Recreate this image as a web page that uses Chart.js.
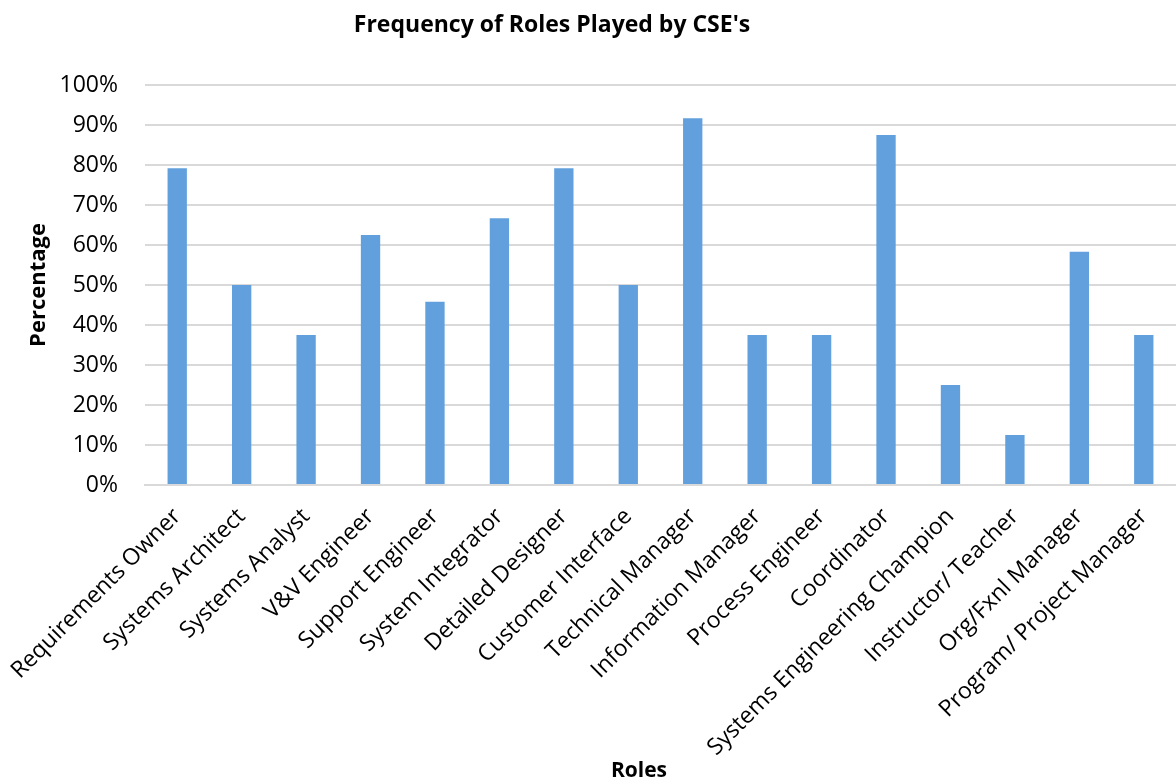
<!DOCTYPE html>
<html>
<head>
<meta charset="utf-8">
<script src="https://cdn.jsdelivr.net/npm/chart.js@4/dist/chart.umd.min.js"></script>
<style>
  html, body { margin: 0; padding: 0; background: #fff; }
  #wrap { position: relative; width: 1176px; height: 784px; }
</style>
</head>
<body>
<div id="wrap"><canvas id="rolesChart"></canvas></div>
<script>
const roles = [
    'Requirements Owner',
    'Systems Architect',
    'Systems Analyst',
    'V&V Engineer',
    'Support Engineer',
    'System Integrator',
    'Detailed Designer',
    'Customer Interface',
    'Technical Manager',
    'Information Manager',
    'Process Engineer',
    'Coordinator',
    'Systems Engineering Champion',
    'Instructor/ Teacher',
    'Org/Fxnl Manager',
    'Program/ Project Manager'
];

const percentages = [79.2, 50, 37.5, 62.5, 45.8, 66.7, 79.2, 50, 91.7, 37.5, 37.5, 87.5, 25, 12.5, 58.3, 37.5];

const yTicks = [0, 10, 20, 30, 40, 50, 60, 70, 80, 90, 100];

const chartTitle = "Frequency of Roles Played by CSE's";
const xTitle = 'Roles';

const font = "'Open Sans', 'Noto Sans', sans-serif";

// main title and x title sit a bit left of centre in the original, so draw them by hand
const titlePlugin = {
    id: 'offsetTitles',
    afterDraw(chart) {
        const ctx = chart.ctx;
        ctx.save();
        ctx.fillStyle = '#000';
        ctx.textAlign = 'center';
        ctx.textBaseline = 'alphabetic';
        ctx.font = 'bold 23px ' + font;
        ctx.fillText(chartTitle, 552, 32);
        ctx.font = 'bold 21px ' + font;
        ctx.fillText(xTitle, 639, 777);
        ctx.restore();
    }
};

const data = {
    labels: roles,
    datasets: [{
        label: 'Percentage',
        backgroundColor: 'rgb(98, 160, 221)',
        borderWidth: 0,
        barPercentage: 0.30,
        categoryPercentage: 1.0,
        data: percentages,
    }]
};

const config = {
    type: 'bar',
    data: data,
    plugins: [titlePlugin],
    options: {
        responsive: false,
        animation: false,
        layout: { padding: { left: 0, right: 0, top: 85, bottom: 0 } },
        plugins: {
            legend: { display: false },
            tooltip: { enabled: false },
            title: { display: false }
        },
        scales: {
            x: {
                afterFit: axis => {
                    axis.height = 299;
                    axis.paddingLeft = 0;
                    axis.paddingRight = 0;
                },
                grid: { display: false, drawTicks: false },
                border: { color: '#d9d9d9', width: 2 },
                ticks: {
                    color: '#000',
                    font: { family: font, size: 23 },
                    maxRotation: 45,
                    minRotation: 45,
                    autoSkip: false,
                    padding: 18
                }
            },
            y: {
                min: 0,
                max: 100,
                afterFit: axis => { axis.width = 145; },
                afterBuildTicks: function(axis) {
                    axis.ticks = yTicks.map(v => ({ value: v }));
                },
                grid: { color: '#d9d9d9', lineWidth: 2, drawTicks: false },
                border: { display: false },
                ticks: {
                    color: '#000',
                    font: { family: font, size: 23 },
                    padding: 27,
                    callback: v => v + '%'
                },
                title: {
                    display: true,
                    text: 'Percentage',
                    color: '#000',
                    font: { family: font, size: 22, weight: 'bold' },
                    padding: { top: 26, bottom: 0 }
                }
            }
        }
    }
};

const canvas = document.getElementById('rolesChart');
canvas.width = 1176;
canvas.height = 784;
const rolesChart = new Chart(canvas, config);
</script>
</body>
</html>
